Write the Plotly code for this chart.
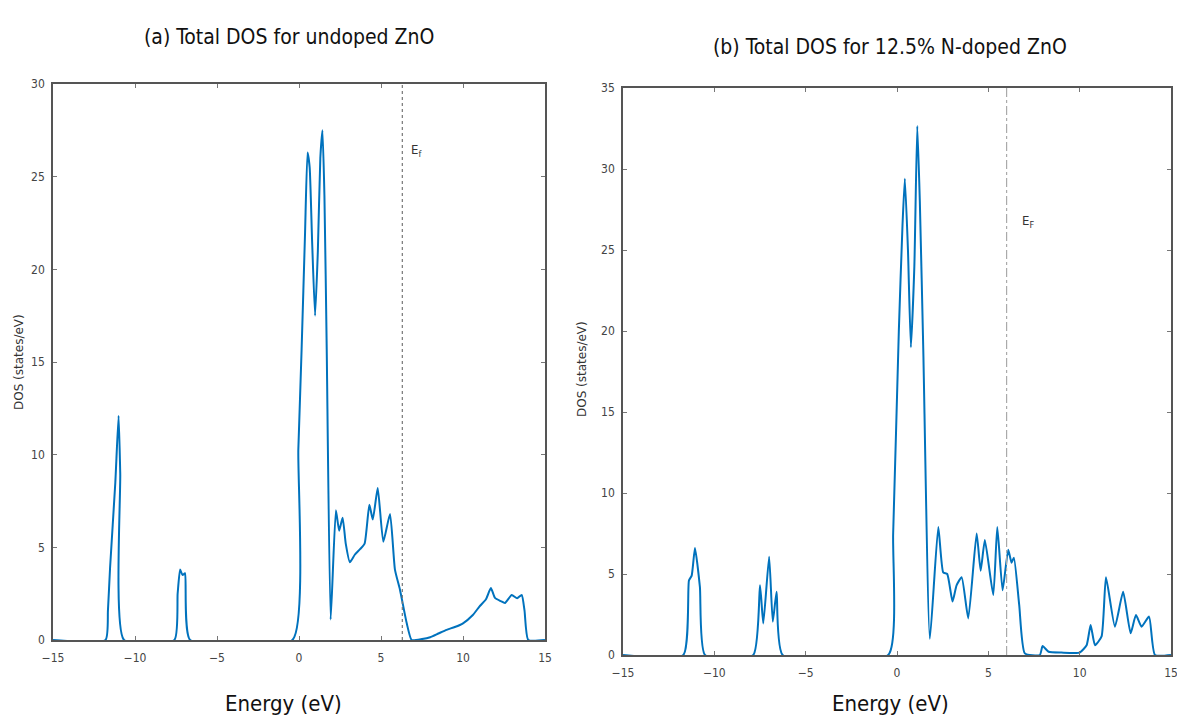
import plotly.graph_objects as go

# ---------------- data ----------------
# (a) undoped ZnO
energy_a = [-15, -11.8, -11.65, -11.52, -11.2, -11.0, -10.9, -10.67,
            -7.6, -7.4, -7.25, -7.1, -6.95, -6.64,
            -0.4, -0.04, 0.16, 0.37, 0.52, 0.65, 0.8, 0.98, 1.15, 1.3, 1.43, 1.55, 1.69, 1.93,
            2.25, 2.45, 2.66, 2.85, 3.1, 3.4, 3.72, 4.0, 4.29, 4.5, 4.8, 5.14, 5.55, 5.85,
            6.16, 6.57, 6.87, 7.5, 8.0, 8.5, 9.0, 9.5, 10.0, 10.6, 11.0, 11.4, 11.7, 11.95,
            12.3, 12.56, 12.97, 13.3, 13.58, 13.75, 13.98, 15]
dos_a = [0, 0, 1.6, 3.9, 8.5, 12.1, 9.0, 0,
         0, 2.5, 3.8, 3.5, 3.6, 0,
         0, 10.3, 15.7, 22.0, 26.3, 25.5, 21.5, 17.5, 21.0, 26.0, 27.5, 24.0, 15.7, 1.1,
         7.0, 5.9, 6.6, 5.2, 4.2, 4.6, 4.9, 5.2, 7.3, 6.5, 8.2, 5.3, 6.8, 3.8,
         2.7, 0.9, 0.0, 0.05, 0.15, 0.35, 0.55, 0.7, 0.9, 1.35, 1.8, 2.2, 2.8, 2.27,
         2.1, 2.0, 2.43, 2.25, 2.43, 1.6, 0, 0]

# (b) 12.5% N-doped ZnO
energy_b = [-15, -11.7, -11.39, -11.24, -11.06, -10.79, -10.51,
            -7.87, -7.5, -7.32, -7.0, -6.8, -6.59, -6.26,
            -0.48, -0.21, 0.1, 0.3, 0.43, 0.6, 0.76, 0.95, 1.11, 1.25, 1.44, 1.8,
            2.26, 2.53, 2.75, 3.04, 3.26, 3.54, 3.9, 4.36, 4.58, 4.81, 5.27, 5.49, 5.78,
            6.09, 6.27, 6.4, 6.69, 7.0, 7.82, 7.97, 8.3, 9.0, 10.0, 10.38, 10.6, 10.84,
            11.2, 11.44, 11.93, 12.38, 12.79, 13.08, 13.39, 13.8, 14.12, 15]
dos_b = [0, 0, 4.6, 4.9, 6.6, 4.2, 0,
         0, 4.3, 1.95, 6.07, 2.06, 3.9, 0,
         0, 7.5, 20.0, 26.5, 29.4, 25.0, 19.0, 24.0, 32.65, 28.0, 18.8, 1.0,
         7.9, 5.1, 5.0, 3.3, 4.3, 4.8, 2.26, 7.5, 5.2, 7.1, 3.7, 7.9, 4.0,
         6.5, 5.7, 6.0, 3.1, 0.1, 0.0, 0.55, 0.2, 0.15, 0.15, 0.6, 1.85, 0.6,
         1.15, 4.8, 1.75, 3.9, 1.34, 2.47, 1.75, 2.37, 0, 0]

fermi_a = 6.3
fermi_b = 6.0
xticks = [-15, -10, -5, 0, 5, 10, 15]
yticks_a = [0, 5, 10, 15, 20, 25, 30]
yticks_b = [0, 5, 10, 15, 20, 25, 30, 35]

LINE = "#0072BD"
NARROW = "Liberation Sans Narrow, DejaVu Sans Condensed, Arial Narrow, sans-serif"
W, H = 1177, 721


def px(x):
    return x / W


def py(y):
    return 1 - y / H


fig = go.Figure()

fig.add_trace(go.Scatter(x=energy_a, y=dos_a, mode="lines",
                         line=dict(color=LINE, width=2, shape="spline", smoothing=0.5),
                         xaxis="x", yaxis="y", showlegend=False))
fig.add_trace(go.Scatter(x=[fermi_a, fermi_a], y=[0, 30], mode="lines",
                         line=dict(color="#777777", width=1.2, dash="dot"),
                         xaxis="x", yaxis="y", showlegend=False))

fig.add_trace(go.Scatter(x=energy_b, y=dos_b, mode="lines",
                         line=dict(color=LINE, width=2, shape="spline", smoothing=0.5),
                         xaxis="x2", yaxis="y2", showlegend=False))
fig.add_trace(go.Scatter(x=[fermi_b, fermi_b], y=[0, 35], mode="lines",
                         line=dict(color="#aaaaaa", width=1.2, dash="dashdot"),
                         xaxis="x2", yaxis="y2", showlegend=False))

axis_common = dict(showgrid=False, zeroline=False, showline=True, mirror="ticks",
                   linecolor="#555555", linewidth=1.5, ticks="inside", ticklen=4,
                   tickcolor="#777777", automargin=False, ticklabeloverflow="allow",
                   tickfont=dict(family=NARROW, size=12, color="#444444"))

fig.update_layout(
    width=W, height=H,
    margin=dict(l=0, r=0, t=0, b=0, autoexpand=False),
    paper_bgcolor="white", plot_bgcolor="white",
    xaxis=dict(domain=[px(53), px(545)], range=[-15, 15], tickvals=xticks,
               anchor="y", ticklabelstandoff=6, **axis_common),
    yaxis=dict(domain=[py(640), py(84)], range=[0, 30], tickvals=yticks_a,
               anchor="x", ticklabelstandoff=4, **axis_common),
    xaxis2=dict(domain=[px(623), px(1171)], range=[-15, 15], tickvals=xticks,
                anchor="y2", ticklabelstandoff=6, **axis_common),
    yaxis2=dict(domain=[py(655), py(88)], range=[0, 35], tickvals=yticks_b,
                anchor="x2", ticklabelstandoff=4, **axis_common),
)

ann = [
    dict(text="(a) Total DOS for undoped ZnO", x=px(289), y=py(37),
         font=dict(family=NARROW, size=21, color="#111111")),
    dict(text="(b) Total DOS for 12.5% N-doped ZnO", x=px(890), y=py(47),
         font=dict(family=NARROW, size=21, color="#111111")),
    dict(text="Energy (eV)", x=px(283), y=py(703),
         font=dict(family=NARROW, size=22, color="#111111")),
    dict(text="Energy (eV)", x=px(890), y=py(703),
         font=dict(family=NARROW, size=22, color="#111111")),
    dict(text="DOS (states/eV)", x=px(19), y=py(362), textangle=-90,
         font=dict(family="DejaVu Sans", size=12, color="#333333")),
    dict(text="DOS (states/eV)", x=px(582), y=py(369), textangle=-90,
         font=dict(family="DejaVu Sans", size=12, color="#333333")),
    dict(text="E<sub>f</sub>", x=px(416), y=py(150),
         font=dict(family=NARROW, size=13, color="#333333")),
    dict(text="E<sub>F</sub>", x=px(1028), y=py(222),
         font=dict(family=NARROW, size=13, color="#333333")),
]
for a in ann:
    a.update(xref="paper", yref="paper", showarrow=False, xanchor="center", yanchor="middle")
    fig.add_annotation(**a)

fig.write_html("out.html", config={"displayModeBar": False},
               post_script="document.body.style.margin='0';document.body.style.overflow='hidden';")
